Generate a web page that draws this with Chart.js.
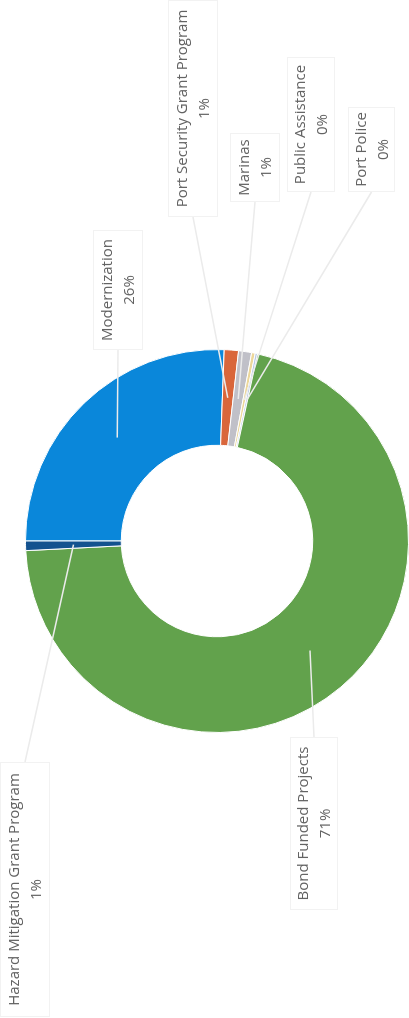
<!DOCTYPE html>
<html>
<head>
<meta charset="utf-8">
<script src="https://cdn.jsdelivr.net/npm/chart.js@4/dist/chart.umd.min.js"></script>
<style>
body{margin:0;background:#fff;}
#wrap{position:relative;width:409px;height:1018px;overflow:hidden;}
#turn{position:absolute;left:0;top:0;width:1018px;height:409px;transform-origin:0 0;transform:translate(0,1018px) rotate(-90deg);}
</style>
</head>
<body>
<div id="wrap"><div id="turn"><canvas id="myChart" width="1018" height="409"></canvas></div></div>
<script>
const categories = ['Modernization', 'Port Security Grant Program', 'Marinas', 'Public Assistance', 'Port Police', 'Bond Funded Projects', 'Hazard Mitigation Grant Program'];
const shares = [25.6, 1.2, 1.1, 0.3, 0.2, 70.8, 0.8];
const pctLabels = ['26%', '1%', '1%', '0%', '0%', '71%', '1%'];
const colors = ['#0a87da', '#d9663b', '#c0c0c8', '#ecd79a', '#b9c9e6', '#62a24c', '#13528f'];

// label boxes, in the unrotated canvas: [left, top, width, height]
const boxes = [
    [668, 93, 120, 50],
    [801, 168, 217, 50],
    [816, 230, 69, 50],
    [826, 287, 135, 48],
    [826, 348, 85, 47],
    [108, 290, 173, 48],
    [1, 0, 255, 50]
];

const callouts = {
    id: 'callouts',
    afterDatasetsDraw(chart) {
        let ctx = chart.ctx;
        let arcs = chart.getDatasetMeta(0).data;
        ctx.save();
        arcs.forEach((arc, i) => {
            let p = arc.getProps(['x', 'y', 'startAngle', 'endAngle', 'innerRadius', 'outerRadius'], true);
            let mid = (p.startAngle + p.endAngle) / 2;
            let r = (p.innerRadius + p.outerRadius) / 2;
            let ex = p.x + Math.cos(mid) * r;
            let ey = p.y + Math.sin(mid) * r;
            let b = boxes[i];
            let sx = b[0] > p.x ? b[0] : b[0] + b[2];
            let sy = b[1] + b[3] / 2;
            ctx.strokeStyle = '#ebebeb';
            ctx.lineWidth = 1.5;
            ctx.beginPath();
            ctx.moveTo(sx, sy);
            ctx.lineTo(ex, ey);
            ctx.stroke();
        });
        arcs.forEach((arc, i) => {
            let b = boxes[i];
            ctx.fillStyle = '#fff';
            ctx.fillRect(b[0], b[1], b[2], b[3]);
            ctx.strokeStyle = '#f2f2f2';
            ctx.lineWidth = 1;
            ctx.strokeRect(b[0] + 0.5, b[1] + 0.5, b[2] - 1, b[3] - 1);
            ctx.fillStyle = '#636363';
            ctx.font = '15px "Open Sans"';
            ctx.textAlign = 'center';
            ctx.textBaseline = 'middle';
            let cx = b[0] + b[2] / 2;
            let cy = b[1] + b[3] / 2;
            ctx.fillText(categories[i], cx, cy - 10);
            ctx.fillText(pctLabels[i], cx, cy + 12);
        });
        ctx.restore();
    }
};

var ctx = document.getElementById('myChart').getContext('2d');
var myChart = new Chart(ctx, {
    type: 'doughnut',
    data: {
        labels: categories,
        datasets: [{
            data: shares,
            backgroundColor: colors,
            borderColor: '#fff',
            borderWidth: 1
        }]
    },
    options: {
        responsive: false,
        animation: false,
        cutout: '50%',
        layout: {
            padding: {left: 285, right: 349, top: 25, bottom: 0}
        },
        plugins: {
            legend: {display: false},
            tooltip: {enabled: false}
        }
    },
    plugins: [callouts]
});
</script>
</body>
</html>
